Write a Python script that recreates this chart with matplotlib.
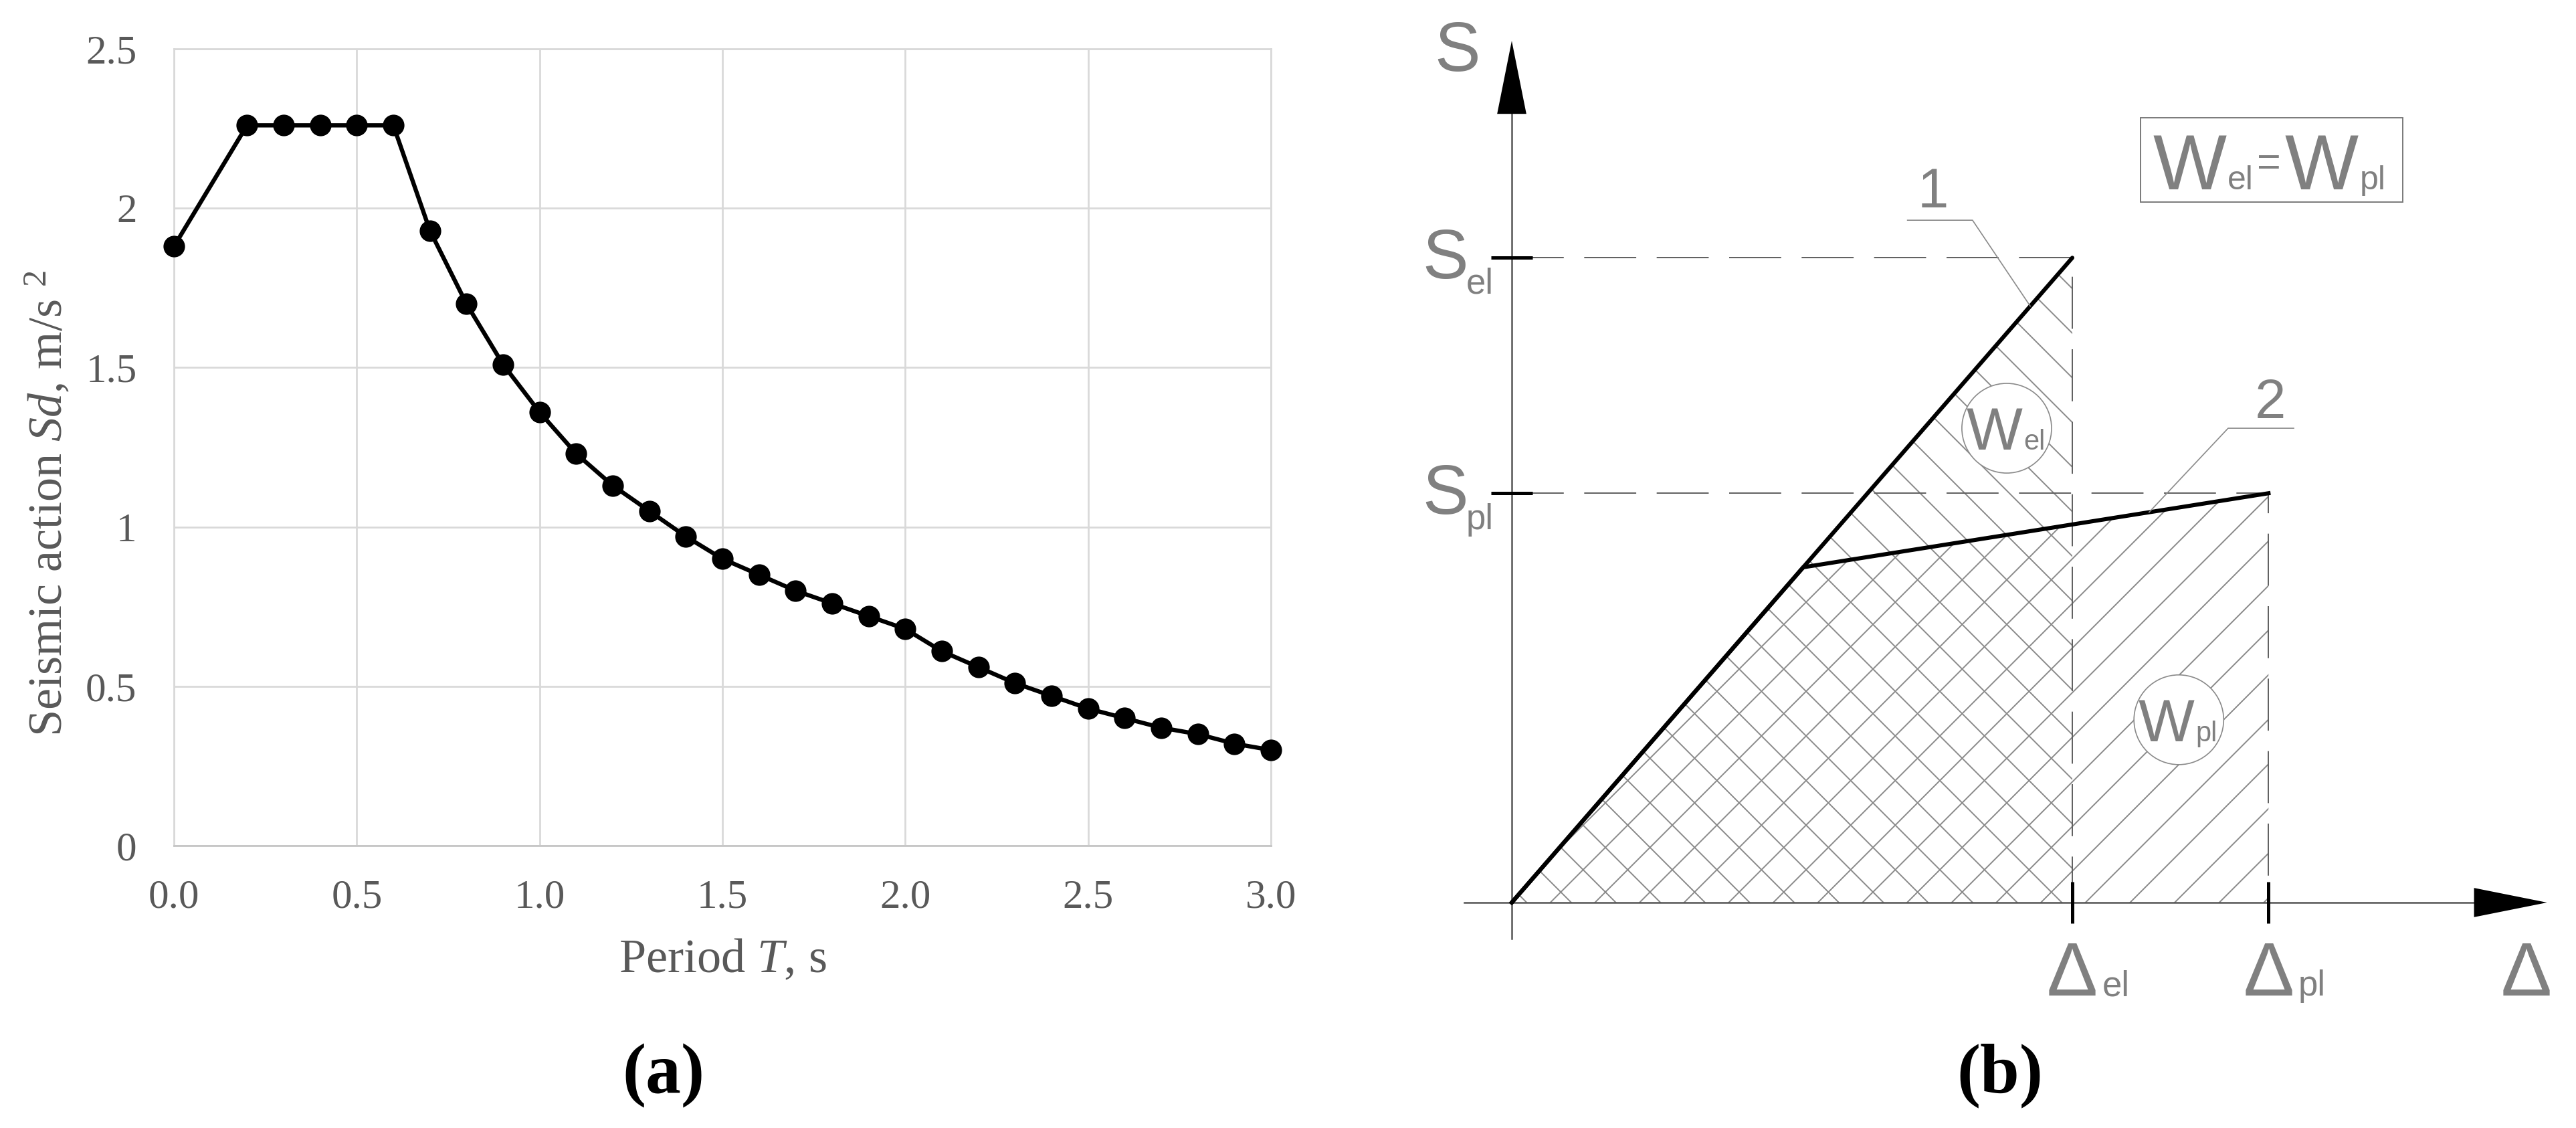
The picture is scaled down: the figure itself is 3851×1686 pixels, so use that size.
"""
Seismic design spectrum (a) and equal-energy diagram (b).
"""

import matplotlib.pyplot as plt
from matplotlib.patches import Polygon, Circle, Rectangle

# (a) design spectrum
period = [0.0, 0.2, 0.3, 0.4, 0.5, 0.6, 0.7, 0.8, 0.9, 1.0,
          1.1, 1.2, 1.3, 1.4, 1.5, 1.6, 1.7, 1.8, 1.9, 2.0,
          2.1, 2.2, 2.3, 2.4, 2.5, 2.6, 2.7, 2.8, 2.9, 3.0]
seismic_action = [1.88, 2.26, 2.26, 2.26, 2.26, 2.26, 1.93, 1.70, 1.51, 1.36,
                  1.23, 1.13, 1.05, 0.97, 0.90, 0.85, 0.80, 0.76, 0.72, 0.68,
                  0.61, 0.56, 0.51, 0.47, 0.43, 0.40, 0.37, 0.35, 0.32, 0.30]
x_ticks = [0.0, 0.5, 1.0, 1.5, 2.0, 2.5, 3.0]
x_tick_labels = ["0.0", "0.5", "1.0", "1.5", "2.0", "2.5", "3.0"]
y_ticks = [0, 0.5, 1, 1.5, 2, 2.5]
y_tick_labels = ["0", "0.5", "1", "1.5", "2", "2.5"]

# (b) equal-energy diagram, displacements normalised to delta_el
delta_el = 1.0
delta_pl = 1.35
s_el = 1.15
s_pl = 0.73
delta_y = 0.52
s_y = s_el / delta_el * delta_y

W, H, DPI = 3851, 1686, 400

plt.rcParams["mathtext.fontset"] = "custom"
plt.rcParams["mathtext.rm"] = "Liberation Serif"
plt.rcParams["mathtext.it"] = "Liberation Serif:italic"
plt.rcParams["lines.scale_dashes"] = False
plt.rcParams["hatch.linewidth"] = 0.35

SERIF = "Liberation Serif"
CAD = "Liberation Sans"
TXT_GREY = "#595959"
CAD_GREY = "#808080"

fig = plt.figure(figsize=(W / DPI, H / DPI), dpi=DPI)

# ---------------- (a) ----------------
ax = fig.add_axes([260 / W, (H - 1264) / H, 1640 / W, 1191 / H])

ax.plot(
    period,
    seismic_action,
    color="black",
    linewidth=1.15,
    marker="o",
    markersize=4.8,
    clip_on=False,
    zorder=3
)

ax.set_xlim(0, 3.0)
ax.set_ylim(0, 2.5)
ax.set_xticks(x_ticks)
ax.set_xticklabels(x_tick_labels)
ax.set_yticks(y_ticks)
ax.set_yticklabels(y_tick_labels)
ax.grid(True, color="#d9d9d9", linewidth=0.5)
ax.set_axisbelow(True)
for side in ["top", "right", "left"]:
    ax.spines[side].set_color("#d9d9d9")
    ax.spines[side].set_linewidth(0.5)
ax.spines["bottom"].set_color("#c6c6c6")
ax.spines["bottom"].set_linewidth(0.5)

ax.tick_params(axis="x", length=0, pad=9, labelsize=11, labelcolor=TXT_GREY)
ax.tick_params(axis="y", length=0, pad=10, labelsize=11, labelcolor=TXT_GREY)
for lbl in ax.get_xticklabels() + ax.get_yticklabels():
    lbl.set_fontfamily(SERIF)

ax.set_xlabel("Period $T$, s", fontsize=13, color=TXT_GREY, fontfamily=SERIF)
ax.xaxis.set_label_coords(0.5, -0.144)
ax.xaxis.label.set_va("center")

ax.set_ylabel("Seismic action $Sd$, m/s $^{2}$", fontsize=13,
              color=TXT_GREY, fontfamily=SERIF)
ax.yaxis.set_label_coords(-0.115, 0.43)
ax.yaxis.label.set_va("center")
ax.yaxis.label.set_ha("center")

fig.text(992 / W, (H - 1608) / H, "(a)", ha="center", va="center",
         fontsize=19, fontweight="bold", fontfamily=SERIF, color="black")

# ---------------- (b) ----------------
px_unit = 838
origin = (2260, 1349)
xlim = (-0.2, 1.85)
ylim = (-0.35, 1.6)
left_px = origin[0] + xlim[0] * px_unit
bottom_px = H - (origin[1] - ylim[0] * px_unit)
bx = fig.add_axes([
    left_px / W,
    bottom_px / H,
    (xlim[1] - xlim[0]) * px_unit / W,
    (ylim[1] - ylim[0]) * px_unit / H
])
bx.set_xlim(*xlim)
bx.set_ylim(*ylim)
bx.axis("off")

hatch_grey = "#8a8a8a"
bx.add_patch(Polygon(
    [(0, 0), (delta_el, 0), (delta_el, s_el)],
    closed=True, facecolor="none", edgecolor=hatch_grey,
    linewidth=0, hatch="\\\\", zorder=1
))
bx.add_patch(Polygon(
    [(0, 0), (delta_y, s_y), (delta_pl, s_pl), (delta_pl, 0)],
    closed=True, facecolor="none", edgecolor=hatch_grey,
    linewidth=0, hatch="//", zorder=1
))

# reference dashed lines
dash = (0, (14, 5.5))
bx.plot([0, delta_el, delta_el], [s_el, s_el, 0], linestyle=dash,
        linewidth=0.35, color="#5e5e5e", zorder=2)
bx.plot([0, delta_pl, delta_pl], [s_pl, s_pl, 0], linestyle=dash,
        linewidth=0.35, color="#5e5e5e", zorder=2)

# axes with arrow heads
s_top, d_right = 1.52, 1.83
head_len, head_half = 0.11, 0.022
bx.plot([0, 0], [-0.065, s_top - head_len], color="#555555",
        linewidth=0.45, zorder=2)
bx.plot([-0.085, d_right - head_len], [0, 0], color="#555555",
        linewidth=0.45, zorder=2)
bx.fill([-head_half, head_half, 0],
        [s_top - head_len, s_top - head_len, s_top],
        color="black", zorder=3)
bx.fill([d_right - head_len, d_right - head_len, d_right],
        [-head_half, head_half, 0],
        color="black", zorder=3)

# tick marks
tick = 0.037
for s in [s_el, s_pl]:
    bx.plot([-tick, tick], [s, s], color="black", linewidth=0.9,
            solid_capstyle="butt", zorder=3)
for d in [delta_el, delta_pl]:
    bx.plot([d, d], [-tick, tick], color="black", linewidth=0.9,
            solid_capstyle="butt", zorder=3)

# elastic (1) and elasto-plastic (2) response
bx.plot([0, delta_el], [0, s_el], color="black", linewidth=1.1,
        solid_capstyle="round", zorder=3)
bx.plot([0, delta_y, delta_pl], [0, s_y, s_pl], color="black",
        linewidth=1.1, solid_joinstyle="miter", zorder=3)

# leaders
t1 = 0.925
bx.plot([0.706, 0.822, t1 * delta_el], [1.217, 1.217, t1 * s_el],
        color="#8a8a8a", linewidth=0.3, zorder=4)
x2 = 1.137
y2 = s_y + (s_pl - s_y) * (x2 - delta_y) / (delta_pl - delta_y)
bx.plot([1.395, 1.278, x2], [0.846, 0.846, y2],
        color="#8a8a8a", linewidth=0.3, zorder=4)
bx.text(0.752, 1.240, "1", ha="center", va="baseline", fontsize=15,
        color=CAD_GREY, family=CAD, zorder=5)
bx.text(1.353, 0.864, "2", ha="center", va="baseline", fontsize=15,
        color=CAD_GREY, family=CAD, zorder=5)

# energy circles
for (cx, cy), sub in [((0.883, 0.846), "el"), ((1.190, 0.326), "pl")]:
    bx.add_patch(Circle((cx, cy), 0.080, facecolor="white",
                        edgecolor="#8a8a8a", linewidth=0.3, zorder=4))
    bx.text(cx - 0.022, cy - 0.038, "W", ha="center", va="baseline",
            fontsize=16, color=CAD_GREY, family=CAD, zorder=5)
    bx.text(cx + 0.030, cy - 0.038, sub, ha="left", va="baseline",
            fontsize=7.5, color=CAD_GREY, family=CAD, zorder=5)

# W_el = W_pl box
bx.add_patch(Rectangle((1.122, 1.249), 0.467, 0.151, facecolor="white",
                       edgecolor="#7a7a7a", linewidth=0.35, zorder=4))
bx.text(1.209, 1.272, "W", ha="center", va="baseline", fontsize=21,
        color=CAD_GREY, family=CAD, zorder=5)
bx.text(1.277, 1.272, "el", ha="left", va="baseline", fontsize=9,
        color=CAD_GREY, family=CAD, zorder=5)
bx.text(1.351, 1.297, "=", ha="center", va="baseline", fontsize=11,
        color=CAD_GREY, family=CAD, zorder=5)
bx.text(1.445, 1.272, "W", ha="center", va="baseline", fontsize=21,
        color=CAD_GREY, family=CAD, zorder=5)
bx.text(1.513, 1.272, "pl", ha="left", va="baseline", fontsize=9,
        color=CAD_GREY, family=CAD, zorder=5)

# axis labels
bx.text(-0.097, 1.483, "S", ha="center", va="baseline", fontsize=18.5,
        color=CAD_GREY, family=CAD)
for s, sub in [(s_el, "el"), (s_pl, "pl")]:
    bx.text(-0.118, s - 0.037, "S", ha="center", va="baseline",
            fontsize=18.5, color=CAD_GREY, family=CAD)
    bx.text(-0.082, s - 0.064, sub, ha="left", va="baseline",
            fontsize=9.5, color=CAD_GREY, family=CAD)
for d, sub in [(delta_el, "el"), (delta_pl, "pl"), (1.81, "")]:
    bx.text(d, -0.166, "\u0394", ha="center", va="baseline",
            fontsize=20.5, color=CAD_GREY, family=CAD)
    if sub:
        bx.text(d + 0.053, -0.166, sub, ha="left", va="baseline",
                fontsize=9.5, color=CAD_GREY, family=CAD)

fig.text(2990 / W, (H - 1608) / H, "(b)", ha="center", va="center",
         fontsize=19, fontweight="bold", fontfamily=SERIF, color="black")

fig.savefig("out.png", dpi=DPI)
plt.close(fig)
